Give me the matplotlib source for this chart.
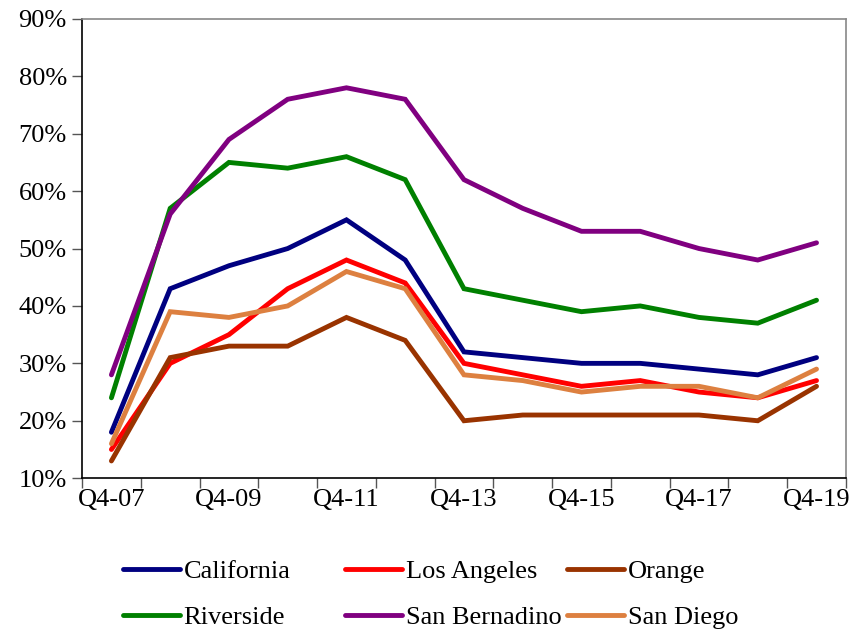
import numpy as np
import matplotlib
matplotlib.use('Agg')
import matplotlib.pyplot as plt
from matplotlib.ticker import FixedLocator, FuncFormatter

plt.rcParams['font.family'] = ['Liberation Serif', 'DejaVu Serif']
plt.rcParams['font.size'] = 19

quarters = ['Q4-07', 'Q4-08', 'Q4-09', 'Q4-10', 'Q4-11', 'Q4-12', 'Q4-13',
            'Q4-14', 'Q4-15', 'Q4-16', 'Q4-17', 'Q4-18', 'Q4-19']

california = [18, 43, 47, 50, 55, 48, 32, 31, 30, 30, 29, 28, 31]
los_angeles = [15, 30, 35, 43, 48, 44, 30, 28, 26, 27, 25, 24, 27]
orange = [13, 31, 33, 33, 38, 34, 20, 21, 21, 21, 21, 20, 26]
riverside = [24, 57, 65, 64, 66, 62, 43, 41, 39, 40, 38, 37, 41]
san_bernadino = [28, 56, 69, 76, 78, 76, 62, 57, 53, 53, 50, 48, 51]
san_diego = [16, 39, 38, 40, 46, 43, 28, 27, 25, 26, 26, 24, 29]

series = [
    ('California', california, '#000080'),
    ('Los Angeles', los_angeles, '#FF0000'),
    ('Orange', orange, '#993300'),
    ('Riverside', riverside, '#008000'),
    ('San Bernadino', san_bernadino, '#800080'),
    ('San Diego', san_diego, '#DD8040'),
]

fig = plt.figure(figsize=(8.51, 6.3), dpi=100)
ax = fig.add_axes([0.0964, 0.241, 0.8976, 0.729])

x = np.arange(len(quarters))
lines = []
for name, vals, col in series:
    ln, = ax.plot(x, vals, color=col, lw=3.5, label=name, solid_capstyle='round',
                  solid_joinstyle='miter')
    lines.append(ln)

ax.set_xlim(-0.5, len(quarters) - 0.5)
ax.set_ylim(10, 90)
ax.set_yticks(np.arange(10, 91, 10))
ax.yaxis.set_major_formatter(FuncFormatter(lambda v, p: f'{v:.0f}%'))
ax.set_xticks(x[::2])
ax.set_xticklabels(quarters[::2])
ax.xaxis.set_minor_locator(FixedLocator(np.arange(-0.5, len(quarters), 1)))
ax.tick_params(axis='x', which='major', length=0, pad=8)
ax.tick_params(axis='x', which='minor', length=7, width=1, direction='out', color='#555555')
ax.tick_params(axis='y', length=7, width=1, direction='out', color='#555555', pad=4)

for side in ['left', 'bottom']:
    ax.spines[side].set_color('black')
    ax.spines[side].set_linewidth(1.2)
for side in ['top', 'right']:
    ax.spines[side].set_color('#888888')
    ax.spines[side].set_linewidth(1.2)

# three legend columns, placed like the original
col_x = [123 / 851, 345 / 851, 567 / 851]
for i in range(3):
    handles = [lines[i], lines[i + 3]]
    leg = fig.legend(handles, [h.get_label() for h in handles],
                     loc='upper left', bbox_to_anchor=(col_x[i], 1 - 560 / 630),
                     frameon=False, handlelength=2.15, handletextpad=0.15,
                     labelspacing=0.85, borderpad=0, borderaxespad=0)

fig.savefig('out.png', dpi=100)
